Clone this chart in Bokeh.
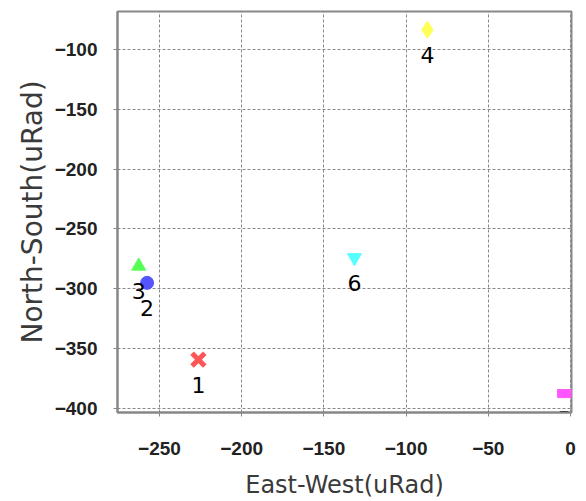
from bokeh.plotting import figure
from bokeh.models import ColumnDataSource, Range1d, FixedTicker
from bokeh.core.properties import value
from bokeh.embed import file_html
from bokeh.resources import INLINE

# data
labels = ["1", "2", "3", "4", "5", "6"]
east_west = [-226.3, -257.5, -262.6, -87.0, -3.6, -131.4]
north_south = [-359.1, -295.0, -281.0, -83.6, -387.5, -274.0]
colors = ["#FF5555", "#5555FF", "#55FF55", "#FFFF55", "#FF55FF", "#55FFFF"]
x_ticks = [-250, -200, -150, -100, -50, 0]
y_ticks = [-100, -150, -200, -250, -300, -350, -400]

p = figure(width=578, height=501, output_backend="svg", toolbar_location=None,
           x_range=Range1d(-275.5, 0.6), y_range=Range1d(-403.3, -68.3),
           min_border_left=117, min_border_right=7, min_border_top=11, min_border_bottom=88)

p.outline_line_color = "#888888"
p.outline_line_width = 2
p.background_fill_color = "white"
p.border_fill_color = "white"

for ax in (p.xaxis[0], p.yaxis[0]):
    ax.axis_line_color = "#888888"
    ax.axis_line_width = 2
    ax.major_tick_line_color = "#888888"
    ax.major_tick_out = 4
    ax.major_tick_in = 0
    ax.minor_tick_line_color = None
    ax.major_label_text_font = "Liberation Sans"
    ax.major_label_text_font_style = "bold"
    ax.major_label_text_font_size = "19px"
    ax.major_label_text_color = "#222222"
    ax.axis_label_text_font = "DejaVu Sans"
    ax.axis_label_text_font_style = "normal"
    ax.axis_label_text_color = "#3a3a3a"

p.xaxis[0].ticker = FixedTicker(ticks=x_ticks)
p.yaxis[0].ticker = FixedTicker(ticks=y_ticks)
p.xaxis[0].axis_label = "East-West(uRad)"
p.yaxis[0].axis_label = "North-South(uRad)"
p.xaxis[0].axis_label_text_font_size = "24px"
p.yaxis[0].axis_label_text_font_size = "28px"
p.xaxis[0].major_label_standoff = 25
p.yaxis[0].major_label_standoff = 16
p.xaxis[0].axis_label_standoff = 13
p.yaxis[0].axis_label_standoff = 3

for g in (p.xgrid[0], p.ygrid[0]):
    g.grid_line_color = "#888888"
    g.grid_line_dash = "3 2"
    g.grid_line_width = 1
p.xgrid[0].ticker = FixedTicker(ticks=x_ticks)
p.ygrid[0].ticker = FixedTicker(ticks=y_ticks)

# markers
p.scatter([east_west[0]], [north_south[0]], marker="x", size=18, line_color=colors[0], line_width=5)
p.scatter([east_west[1]], [north_south[1]], marker="circle", size=13, fill_color=colors[1], line_color=colors[1])
p.scatter([east_west[2]], [north_south[2]], marker="triangle", size=14, fill_color=colors[2], line_color=colors[2])
p.scatter([east_west[3]], [north_south[3]], marker="diamond", size=17, fill_color=colors[3], line_color=colors[3])
p.rect([east_west[4]], [north_south[4]], width=14, height=8, width_units="screen", height_units="screen",
       fill_color=colors[4], line_color=colors[4])
p.scatter([east_west[5]], [north_south[5]], marker="inverted_triangle", size=14, fill_color=colors[5], line_color=colors[5])

src = ColumnDataSource(dict(x=east_west, y=north_south, t=labels))
p.text("x", "y", text="t", source=src, text_align="center", text_baseline="middle",
       y_offset=25, text_font=value("DejaVu Sans"), text_font_size="22px", text_color="black")

open("out.html", "w").write(file_html(p, INLINE))
